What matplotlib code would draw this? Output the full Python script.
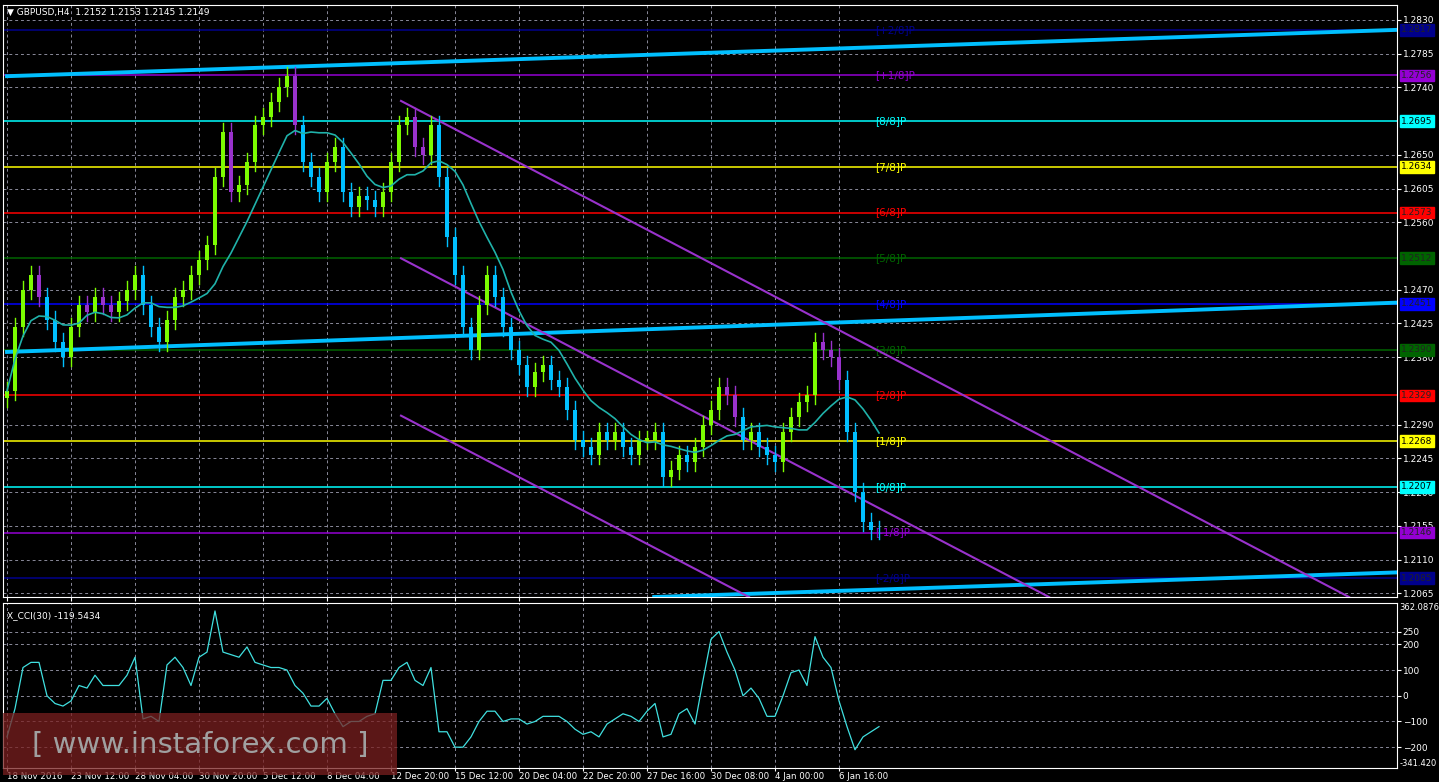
import matplotlib
matplotlib.use("Agg")
import matplotlib.pyplot as plt
import matplotlib.transforms as mtrans
import numpy as np
import pandas as pd

closes = [1.2335,1.2420,1.2470,1.2490,1.2460,1.2430,1.2400,1.2380,1.2420,1.2450,
          1.2440,1.2460,1.2450,1.2440,1.2455,1.2470,1.2490,1.2450,1.2420,1.2400,
          1.2430,1.2460,1.2470,1.2490,1.2510,1.2530,1.2620,1.2680,1.2600,1.2610,
          1.2640,1.2690,1.2700,1.2720,1.2740,1.2755,1.2690,1.2640,1.2620,1.2600,
          1.2640,1.2660,1.2600,1.2580,1.2595,1.2590,1.2580,1.2600,1.2640,1.2690,
          1.2700,1.2660,1.2650,1.2690,1.2620,1.2540,1.2490,1.2420,1.2390,1.2450,
          1.2490,1.2460,1.2420,1.2390,1.2370,1.2340,1.2360,1.2370,1.2350,1.2340,
          1.2310,1.2270,1.2260,1.2250,1.2280,1.2270,1.2280,1.2260,1.2250,1.2270,
          1.2270,1.2280,1.2220,1.2230,1.2250,1.2240,1.2260,1.2290,1.2310,1.2340,
          1.2330,1.2300,1.2270,1.2280,1.2260,1.2250,1.2240,1.2280,1.2300,1.2320,
          1.2330,1.2400,1.2390,1.2380,1.2350,1.2280,1.2200,1.2160,1.2150,1.2149]
cci = [-160,-50,110,130,130,0,-30,-40,-20,40,30,80,40,40,40,80,150,-90,-80,-100,
       120,150,110,40,150,170,330,170,160,150,190,130,120,110,110,100,40,10,-40,-40,
       -10,-70,-120,-100,-100,-80,-70,60,60,110,130,60,40,110,-140,-140,-200,-200,-160,-100,
       -60,-60,-100,-90,-90,-110,-100,-80,-80,-80,-100,-130,-150,-140,-160,-110,-90,-70,-80,-100,
       -60,-30,-160,-150,-70,-50,-110,60,220,250,170,100,0,30,-10,-80,-80,0,90,100,
       40,230,150,110,-20,-120,-210,-160,-140,-120]
date_labels = ["18 Nov 2016","23 Nov 12:00","28 Nov 04:00","30 Nov 20:00","5 Dec 12:00",
               "8 Dec 04:00","12 Dec 20:00","15 Dec 12:00","20 Dec 04:00","22 Dec 20:00",
               "27 Dec 16:00","30 Dec 08:00","4 Jan 00:00","6 Jan 16:00"]
levels = [1.2817,1.2756,1.2695,1.2634,1.2573,1.2512,1.2451,1.2390,1.2329,1.2268,1.2207,1.2146,1.2085]
level_names = ["[+2/8]P","[+1/8]P","[8/8]P","[7/8]P","[6/8]P","[5/8]P","[4/8]P","[3/8]P",
               "[2/8]P","[1/8]P","[0/8]P","[-1/8]P","[-2/8]P"]
level_colors = ["#00008B","#9400D3","#00FFFF","#FFFF00","#FF0000","#006400","#0000FF","#006400",
                "#FF0000","#FFFF00","#00FFFF","#9400D3","#00008B"]
cyan_lines = [((0,1.2755),(174.25,1.2817)),((0,1.2387),(174.25,1.2453)),((80.9,1.2060),(174.25,1.2093))]
purple_lines = [((49.25,1.2722),(167.75,1.2060)),((49.25,1.2512),(130.25,1.2060)),((49.25,1.2302),(92.75,1.2060))]
price_ticks = [1.2830,1.2785,1.2740,1.2650,1.2605,1.2560,1.2470,1.2425,1.2380,1.2290,1.2245,1.2200,1.2155,1.2110,1.2065]
cci_ticks = [250,200,100,0,-100,-200]

W,H = 1439,782
fig = plt.figure(figsize=(W/100,H/100),dpi=100,facecolor="black")
def ax_at(x0,y0,x1,y1):
    return fig.add_axes([x0/W,1-y1/H,(x1-x0)/W,(y1-y0)/H])
ax = ax_at(3,5,1397,597)
ax2 = ax_at(3,603,1397,768)
for a in (ax,ax2):
    a.set_facecolor("black")
    for s in a.spines.values(): s.set_color("white")
    a.tick_params(colors="white",labelsize=6.5,length=3,pad=1)
    a.yaxis.tick_right()
    a.set_xlim(-0.5,173.75)
xt = [8*k for k in range(len(date_labels))]
n = len(closes)
idx = np.arange(n)
ma = pd.Series(closes).rolling(10,min_periods=1).mean().values
ax.set_ylim(1.2060,1.2850)
ax.set_yticks(price_ticks)
ax.set_yticklabels([f"{v:.4f}" for v in price_ticks])
ax.set_xticks(xt); ax.set_xticklabels([])
for a in (ax,ax2):
    a.grid(True,color="#8a8a9a",linestyle=(0,(3,3)),linewidth=0.7)
    a.set_axisbelow(True)
for lv,c in zip(levels,level_colors):
    ax.axhline(lv,color=c,lw=1.1,zorder=1)
for lv,nm,c in zip(levels,level_names,level_colors):
    ax.text(108.5,lv,nm,color=c,fontsize=7.5,va="center",zorder=2)
    tc = "black" if c in ("#00FFFF","#FFFF00") else "#222222"
    ax.text(1.003,lv,f"{lv:.4f}",transform=mtrans.blended_transform_factory(ax.transAxes,ax.transData),
            color=tc,fontsize=6.5,va="center",ha="left",bbox=dict(boxstyle="square,pad=0.15",fc=c,ec=c),clip_on=False)
for (p0,p1) in cyan_lines:
    ax.plot([p0[0],p1[0]],[p0[1],p1[1]],color="#00BFFF",lw=2.8,zorder=3)
for (p0,p1) in purple_lines:
    ax.plot([p0[0],p1[0]],[p0[1],p1[1]],color="#9932CC",lw=1.5,zorder=3)
opens = [closes[0]-0.0010]+closes[:-1]
for i in idx:
    o,c = opens[i],closes[i]
    hi,lo = max(o,c)+0.0012,min(o,c)-0.0012
    if c>=o: col="#7CFC00"
    elif c>ma[i]: col="#9932CC"
    else: col="#00BFFF"
    ax.plot([i,i],[lo,hi],color=col,lw=1,zorder=4)
    ax.bar(i,abs(c-o) if abs(c-o)>0 else 0.0002,bottom=min(o,c),width=0.55,color=col,zorder=5)
ax.plot(idx,ma,color="#20B2AA",lw=1.2,zorder=6)
ax.text(0.003,0.995,"▼ GBPUSD,H4  1.2152 1.2153 1.2145 1.2149",transform=ax.transAxes,color="white",fontsize=6.5,va="top")

ax2.set_ylim(-281,361)
ax2.set_yticks(cci_ticks)
ax2.set_xticks(xt); ax2.set_xticklabels(date_labels,ha="left")
ax2.tick_params(axis="x",labelsize=6.2,length=2,pad=1)
ax2.plot(idx,cci,color="#40E0E0",lw=0.9)
ax2.text(0.003,0.95,"X_CCI(30) -119.5434",transform=ax2.transAxes,color="white",fontsize=6.5,va="top")
ax2.text(1.002,0.97,"362.0876",transform=ax2.transAxes,color="white",fontsize=6,va="center")
ax2.text(1.002,0.03,"-341.420",transform=ax2.transAxes,color="white",fontsize=6,va="center")
fig.patches.append(plt.Rectangle((3/W,1-775/H),394/W,62/H,transform=fig.transFigure,fc="#7a2020",alpha=0.75,zorder=10))
fig.text(200/W,1-745/H,"[ www.instaforex.com ]",color="#a0a0a0",fontsize=21,ha="center",va="center",zorder=11)
fig.savefig("out.png",dpi=100,facecolor="black")
